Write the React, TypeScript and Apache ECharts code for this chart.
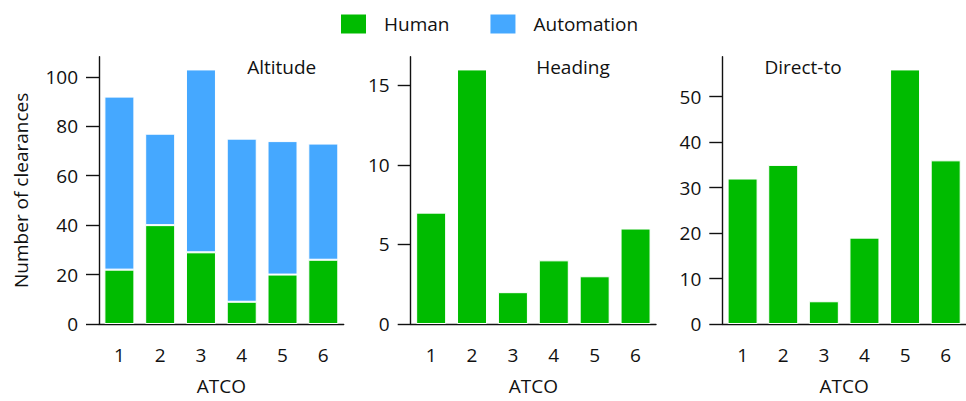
import React, { useEffect, useRef } from "react";
import * as echarts from "echarts";

const categories = ["1", "2", "3", "4", "5", "6"];
const altitudeHuman = [22, 40, 29, 9, 20, 26];
const altitudeAutomation = [70, 37, 74, 66, 54, 47];
const headingHuman = [7, 16, 2, 4, 3, 6];
const directHuman = [32, 35, 5, 19, 56, 36];
const altitudeTicks = [0, 20, 40, 60, 80, 100];
const headingTicks = [0, 5, 10, 15];
const directTicks = [0, 10, 20, 30, 40, 50];
const panelTitles = ["Altitude", "Heading", "Direct-to"];

const GREEN = "#00bb00";
const BLUE = "#45a8ff";
const INK = "#111111";
const FONT = "Open Sans";
const FS = 19;

export default function App() {
  const ref = useRef<HTMLDivElement>(null);
  useEffect(() => {
    if (!ref.current) return;
    const chart = echarts.init(ref.current, null, { renderer: "svg" });
    const grids = [
      { left: 99, width: 244.7, top: 56.7, bottom: 77 },
      { left: 410.7, width: 245.3, top: 56.7, bottom: 77 },
      { left: 722.3, width: 244.7, top: 56.7, bottom: 77 },
    ];
    const tickSets = [altitudeTicks, headingTicks, directTicks];
    const intervals = [20, 5, 10];
    const xAxes = grids.map((_, i) => ({
      type: "category",
      gridIndex: i,
      data: categories,
      name: "ATCO",
      nameLocation: "middle",
      nameGap: 52,
      nameTextStyle: { fontFamily: FONT, fontSize: FS, color: INK },
      axisLine: { lineStyle: { color: INK, width: 1.4 } },
      axisTick: { alignWithLabel: true, length: 12, lineStyle: { color: INK, width: 1.4 } },
      axisLabel: { margin: 21, fontFamily: FONT, fontSize: FS, color: INK },
      splitLine: { show: false },
    }));
    const yAxes = grids.map((_, i) => ({
      type: "value",
      gridIndex: i,
      min: 0,
      max: (v: { max: number }) => v.max * 1.05,
      interval: intervals[i],
      name: i === 0 ? "Number of clearances" : "",
      nameLocation: "middle",
      nameGap: 69,
      nameTextStyle: { fontFamily: FONT, fontSize: FS, color: INK },
      axisLine: { show: true, lineStyle: { color: INK, width: 1.4 } },
      axisTick: {
        show: true,
        length: 13,
        customValues: tickSets[i],
        lineStyle: { color: INK, width: 1.4 },
      },
      axisLabel: {
        margin: 21,
        fontFamily: FONT,
        fontSize: FS,
        color: INK,
        customValues: tickSets[i],
      },
      splitLine: { show: false },
    }));
    const itemBase = { borderColor: "#ffffff", borderWidth: 1 };
    const option = {
      animation: false,
      backgroundColor: "#ffffff",
      textStyle: { fontFamily: FONT },
      legend: {
        data: [
          { name: "Human", itemStyle: { color: GREEN } },
          { name: "Automation", itemStyle: { color: BLUE } },
        ],
        left: 339,
        top: 12.5,
        padding: 0,
        itemWidth: 27,
        itemHeight: 21,
        itemGap: 39,
        icon: "rect",
        textStyle: { fontFamily: FONT, fontSize: FS, color: INK, padding: [0, 0, 0, 12] },
      },
      grid: grids,
      xAxis: xAxes,
      yAxis: yAxes,
      graphic: panelTitles.map((t, i) => ({
        type: "text",
        x: [281.7, 573, 803][i],
        y: 67,
        style: {
          text: t,
          fontFamily: FONT,
          fontSize: FS,
          fill: INK,
          textAlign: "center",
          textVerticalAlign: "middle",
        },
      })),
      series: [
        {
          name: "Human",
          type: "bar",
          stack: "alt",
          xAxisIndex: 0,
          yAxisIndex: 0,
          barWidth: 30,
          data: altitudeHuman,
          itemStyle: { ...itemBase, color: GREEN },
        },
        {
          name: "Automation",
          type: "bar",
          stack: "alt",
          xAxisIndex: 0,
          yAxisIndex: 0,
          barWidth: 30,
          data: altitudeAutomation,
          itemStyle: { ...itemBase, color: BLUE },
        },
        {
          name: "Human",
          type: "bar",
          xAxisIndex: 1,
          yAxisIndex: 1,
          barWidth: 30,
          data: headingHuman,
          itemStyle: { ...itemBase, color: GREEN },
        },
        {
          name: "Human",
          type: "bar",
          xAxisIndex: 2,
          yAxisIndex: 2,
          barWidth: 30,
          data: directHuman,
          itemStyle: { ...itemBase, color: GREEN },
        },
      ],
    };
    chart.setOption(option as any);
    return () => chart.dispose();
  }, []);
  return (
    <div
      ref={ref}
      style={{ position: "fixed", left: 0, top: 0, width: 966, height: 401, background: "#fff" }}
    />
  );
}
